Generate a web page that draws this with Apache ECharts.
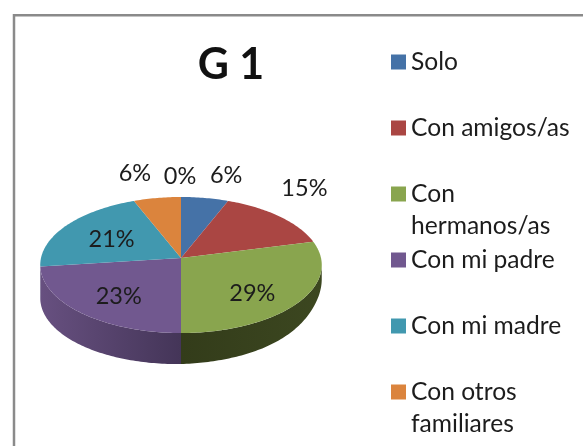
<!DOCTYPE html>
<html>
<head>
<meta charset="utf-8">
<style>html,body{margin:0;padding:0;background:#fff}#c{width:583px;height:446px}</style>
<script src="https://cdn.jsdelivr.net/npm/echarts@6/dist/echarts.min.js"></script>
</head>
<body>
<div id="c"></div>
<script>
// ---- data ----
const titleText = 'G 1';
const categories = ['Solo', 'Con amigos/as', 'Con hermanos/as', 'Con mi padre', 'Con mi madre', 'Con otros familiares', 'Otros'];
const values = [6, 15, 29, 23, 21, 6, 0];

// ---- style ----
const topColors = ['#4572a7', '#aa4643', '#89a54e', '#71588f', '#4198af', '#db843d', '#93a9cf'];
const sideStops = {
  2: ['#333c1a', '#3c4720'],
  3: ['#675080', '#443558']
};
const legendLines = {
  'Con hermanos/as': '\nCon\nhermanos/as',
  'Con otros familiares': '\nCon otros\nfamiliares'
};
const legendRowCenters = [62, 128, 194, 260, 326, 392];
const legendLineHeight = 32;
const labelRadius = [1.3, 1.3, 0.62, 0.62, 0.62, 1.3, 1.3];
const labelNudge = [[15, -7], [-2, -16], [0, 9], [-2, 6], [3, 2], [-16, -9], [-1, -4]];
const FONT = 'Lato, "Noto Sans", sans-serif';

// ---- 3D pie projection ----
const CX = 181, CY = 258, RX = 140, RY = 67.3, K = 0.103;
function project(deg, r) {
  const a = deg * Math.PI / 180, u = Math.sin(a), v = Math.cos(a), w = 1 + K * r * v;
  return [CX + RX * r * u / w, CY - RY * r * v / w];
}
function depth(deg) {
  const u = Math.sin(deg * Math.PI / 180);
  return u < 0 ? 31 - 2 * u : 31 - 5 * u - 12 * Math.pow(u, 5);
}
function arcPoints(a0, a1) {
  const pts = [];
  const n = Math.max(1, Math.ceil(Math.abs(a1 - a0)));
  for (let i = 0; i <= n; i++) pts.push(project(a0 + (a1 - a0) * i / n, 1));
  return pts;
}
const SIDE_FROM = 96, SIDE_TO = 264;

function renderSlice(params, api) {
  const idx = params.seriesIndex;
  const value = api.value(0), before = api.value(1);
  const a0 = before * 3.6, a1 = (before + value) * 3.6;
  const children = [];
  const s0 = Math.max(a0, SIDE_FROM), s1 = Math.min(a1, SIDE_TO);
  if (s1 > s0) {
    const top = arcPoints(s0, s1);
    const n = top.length - 1;
    const bottom = top.map((p, i) => [p[0], p[1] + depth(s0 + (s1 - s0) * i / n)]).reverse();
    const stops = sideStops[idx] || [topColors[idx], topColors[idx]];
    children.push({
      type: 'polygon',
      shape: { points: top.concat(bottom) },
      style: {
        fill: new echarts.graphic.LinearGradient(0, 0, 1, 0, [
          { offset: 0, color: stops[0] },
          { offset: 1, color: stops[1] }
        ])
      }
    });
  }
  if (value > 0) {
    children.push({
      type: 'polygon',
      z2: 2,
      shape: { points: [project(0, 0)].concat(arcPoints(a0, a1)) },
      style: { fill: topColors[idx] }
    });
  }
  const p = project((a0 + a1) / 2, labelRadius[idx]);
  children.push({
    type: 'text',
    z2: 5,
    x: p[0] + labelNudge[idx][0],
    y: p[1] + labelNudge[idx][1],
    style: {
      text: value + '%',
      font: '23.5px ' + FONT,
      fill: '#1c1c1c',
      align: 'center',
      verticalAlign: 'middle'
    }
  });
  return { type: 'group', children };
}

let running = 0;
const series = categories.map((name, i) => {
  const s = {
    type: 'custom',
    name,
    coordinateSystem: 'none',
    itemStyle: { color: topColors[i] },
    silent: true,
    renderItem: renderSlice,
    data: [[values[i], running]],
    dimensions: ['value', 'before'],
    encode: { value: 0 }
  };
  running += values[i];
  return s;
});

const legends = legendRowCenters.map((c, i) => {
  const name = categories[i];
  const lines = legendLines[name] ? 3 : 1;
  return {
    data: [name],
    orient: 'vertical',
    left: 391,
    top: c - lines * legendLineHeight / 2,
    padding: 0,
    itemWidth: 15,
    itemHeight: 15,
    icon: 'rect',
    selectedMode: false,
    formatter: n => legendLines[n] || n,
    textStyle: { fontFamily: FONT, fontSize: 24.6, color: '#1c1c1c', lineHeight: legendLineHeight }
  };
});

const chart = echarts.init(document.getElementById('c'), null, { renderer: 'canvas' });
chart.setOption({
  animation: false,
  backgroundColor: '#ffffff',
  title: {
    text: titleText,
    left: 231,
    top: 44,
    textAlign: 'center',
    padding: 0,
    textStyle: { fontFamily: FONT, fontSize: 43, fontWeight: 'bold', color: '#111' }
  },
  legend: legends,
  graphic: [{
    type: 'rect',
    silent: true,
    shape: { x: 14, y: 15.3, width: 800, height: 800 },
    style: { fill: 'none', stroke: '#8a8a8a', lineWidth: 2.5 }
  }],
  series
});
</script>
</body>
</html>
